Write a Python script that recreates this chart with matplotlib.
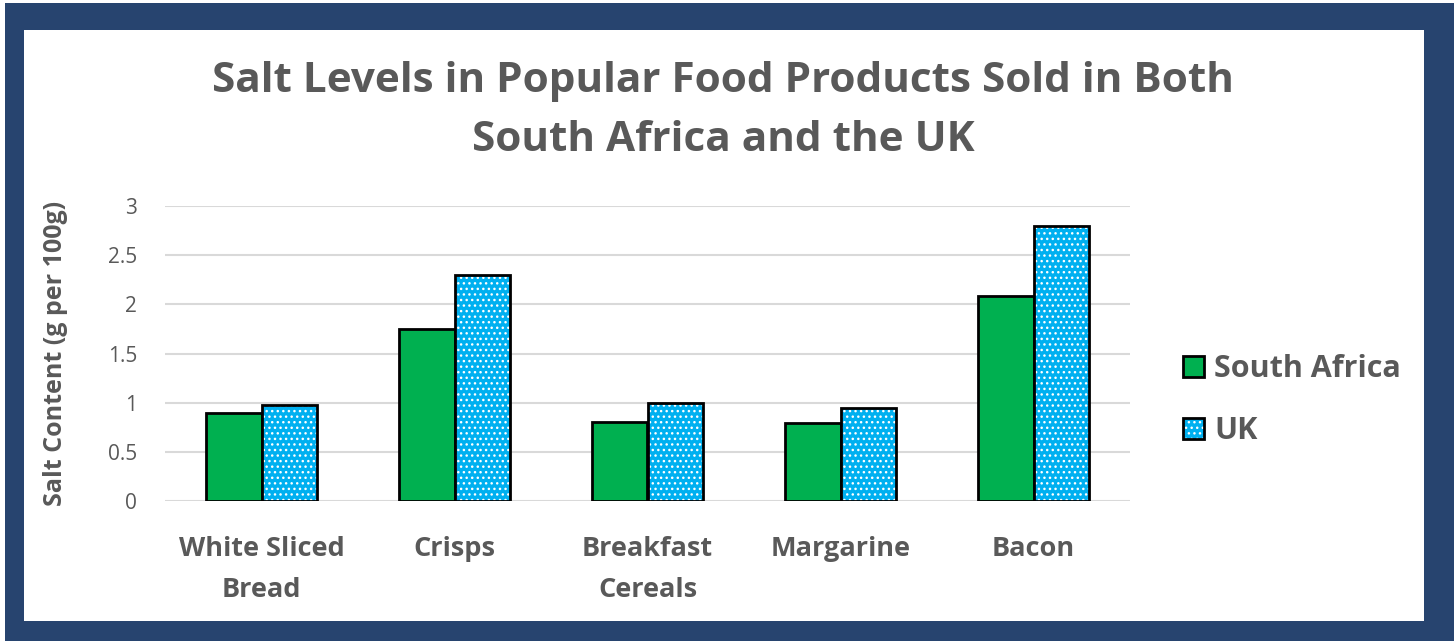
import numpy as np
import matplotlib.pyplot as plt
from matplotlib.patches import Rectangle, Patch
from matplotlib.legend_handler import HandlerTuple

plt.rcParams['font.family'] = ['Open Sans', 'DejaVu Sans']
plt.rcParams['hatch.linewidth'] = 1.0

# data
categories = ['White Sliced\nBread', 'Crisps', 'Breakfast\nCereals', 'Margarine', 'Bacon']
south_africa = [0.89, 1.75, 0.80, 0.79, 2.08]
uk = [0.98, 2.30, 1.00, 0.95, 2.80]
yticks = [0, 0.5, 1, 1.5, 2, 2.5, 3]
ytick_labels = ['0', '0.5', '1', '1.5', '2', '2.5', '3']

navy = '#27446F'
grey_txt = '#595959'
green = '#00B050'
blue = '#00B0F0'
W, H = 1454, 641

fig = plt.figure(figsize=(W / 100, H / 100), dpi=100)
fig.patch.set_facecolor('white')
# navy frame with white card inside
fig.add_artist(Rectangle((5 / W, 0), 1, (H - 3) / H, transform=fig.transFigure,
                         facecolor=navy, edgecolor='none', zorder=0))
fig.add_artist(Rectangle((24 / W, (H - 621) / H), 1400 / W, 591 / H, transform=fig.transFigure,
                         facecolor='white', edgecolor='none', zorder=0))

ax = fig.add_axes([165 / W, (H - 501) / H, 965 / W, 295 / H])
ax.set_facecolor('none')

x = np.arange(len(categories))
bw = 0.285
ax.bar(x - bw / 2, south_africa, bw, color=green, edgecolor='black', linewidth=2, zorder=3)
# white dotted fill first, black outline on top
ax.bar(x + bw / 2, uk, bw, color=blue, edgecolor='white', linewidth=0, hatch='...', zorder=3)
ax.bar(x + bw / 2, uk, bw, fill=False, edgecolor='black', linewidth=2, zorder=4)

ax.set_xlim(-0.5, len(categories) - 0.5)
ax.set_ylim(0, 3)
ax.set_yticks(yticks)
ax.set_yticklabels(ytick_labels)
ax.yaxis.grid(True, color='#D9D9D9', linewidth=1.5, zorder=0)
for s in ax.spines.values():
    s.set_visible(False)
ax.tick_params(axis='both', length=0, colors=grey_txt)
ax.tick_params(axis='y', labelsize=15, pad=20)
ax.set_xticks(x)
ax.set_xticklabels(categories, fontsize=19.5, fontweight='bold', color=grey_txt, linespacing=1.75)
ax.tick_params(axis='x', pad=25)

fig.text(55 / W, 1 - 353 / H, 'Salt Content (g per 100g)', rotation=90, ha='center', va='center',
         fontsize=18, fontweight='bold', color=grey_txt)

fig.text(723 / W, 1 - 111 / H, 'Salt Levels in Popular Food Products Sold in Both\nSouth Africa and the UK',
         ha='center', va='center', fontsize=30.4, fontweight='bold', color=grey_txt, linespacing=1.56)

h_sa = Patch(facecolor=green, edgecolor='black', linewidth=2)
h_uk = (Patch(facecolor=blue, edgecolor='white', linewidth=0, hatch='...'),
        Patch(fill=False, edgecolor='black', linewidth=2))
ax.legend([h_sa, h_uk], ['South Africa', 'UK'], handler_map={tuple: HandlerTuple(ndivide=1)},
          loc='center left', bbox_to_anchor=(1.039, 0.342), frameon=False, borderpad=0,
          prop={'size': 22, 'weight': 'bold'}, labelcolor=grey_txt,
          handlelength=0.7, handleheight=0.7, handletextpad=0.33, labelspacing=1.05)

fig.savefig('out.png', dpi=100)
